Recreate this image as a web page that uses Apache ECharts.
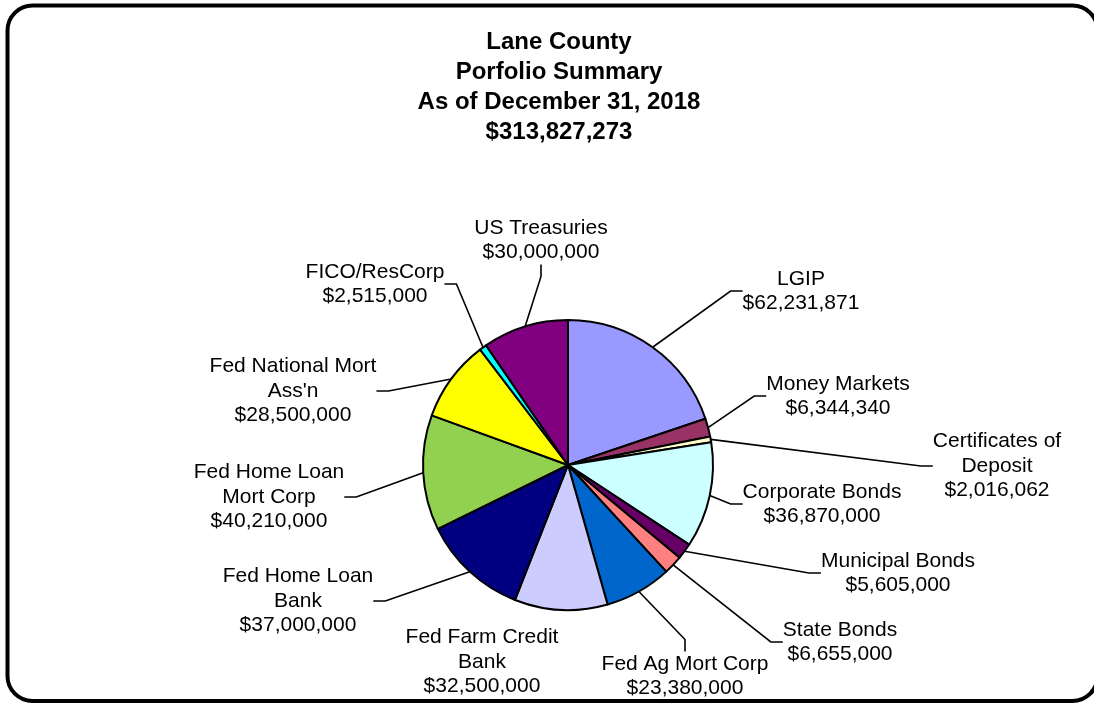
<!DOCTYPE html>
<html><head><meta charset="utf-8">
<script src="https://cdn.jsdelivr.net/npm/echarts@6/dist/echarts.min.js"></script>
<style>html,body{margin:0;padding:0;background:#fff}#c{width:1094px;height:704px}</style>
</head><body><div id="c"></div>
<script>
// ---- data ----
const categories = [
  'LGIP', 'Money Markets', 'Certificates of\nDeposit', 'Corporate Bonds',
  'Municipal Bonds', 'State Bonds', 'Fed Ag Mort Corp', 'Fed Farm Credit\nBank',
  'Fed Home Loan\nBank', 'Fed Home Loan\nMort Corp', 'Fed National Mort\nAss\'n',
  'FICO/ResCorp', 'US Treasuries'
];
const values = [
  62231871, 6344340, 2016062, 36870000,
  5605000, 6655000, 23380000, 32500000,
  37000000, 40210000, 28500000,
  2515000, 30000000
];
const titleLines = ['Lane County', 'Porfolio Summary', 'As of December 31, 2018', '$313,827,273'];

// ---- styles / layout ----
const colors = [
  '#9999FF', '#993366', '#FFFFCC', '#CCFFFF',
  '#660066', '#FF8080', '#0066CC', '#CCCCFF',
  '#000080', '#92D050', '#FFFF00',
  '#00FFFF', '#800080'
];
// label block centres (layout only)
const labelPos = [
  [801, 291], [838, 396], [997, 466], [822, 504],
  [898, 573], [840, 642], [685, 676], [482, 662],
  [298, 601], [269, 497], [293, 391],
  [375, 284], [541, 240]
];
const hideLine = [false, false, false, false, false, false, false, true, false, false, false, false, false];

const fmt = v => '$' + v.toLocaleString('en-US');
const FONT = '"Liberation Sans", Arial, sans-serif';

const chart = echarts.init(document.getElementById('c'), null, {renderer: 'canvas'});
chart.setOption({
  animation: false,
  backgroundColor: '#fff',
  title: {
    text: titleLines.join('\n'),
    left: 554, top: 22, textAlign: 'center',
    textStyle: {fontFamily: FONT, fontSize: 24, fontWeight: 'bold', color: '#000', lineHeight: 30}
  },
  graphic: [{
    type: 'rect', silent: true,
    shape: {x: 7.5, y: 5.5, width: 1090, height: 695.5, r: 25},
    style: {fill: 'none', stroke: '#000', lineWidth: 4}
  }],
  series: [{
    type: 'pie',
    center: [568, 465],
    radius: 145,
    startAngle: 90,
    clockwise: true,
    avoidLabelOverlap: false,
    emphasis: {disabled: true},
    itemStyle: {borderColor: '#000', borderWidth: 2},
    label: {
      show: true, position: 'outside', color: '#000', fontFamily: FONT,
      fontSize: 21, lineHeight: 24.5, align: 'center',
      formatter: p => p.name + '\n' + fmt(p.value)
    },
    labelLine: {show: true, length: 10, length2: 12, smooth: false, lineStyle: {color: '#000', width: 1.6}},
    labelLayout: p => {
      const pos = labelPos[p.dataIndex];
      return {x: pos[0], y: pos[1], align: 'center', verticalAlign: 'middle', hideOverlap: false};
    },
    data: categories.map((c, i) => ({
      name: c, value: values[i],
      itemStyle: {color: colors[i]},
      labelLine: {show: !hideLine[i]}
    }))
  }]
});
</script></body></html>
